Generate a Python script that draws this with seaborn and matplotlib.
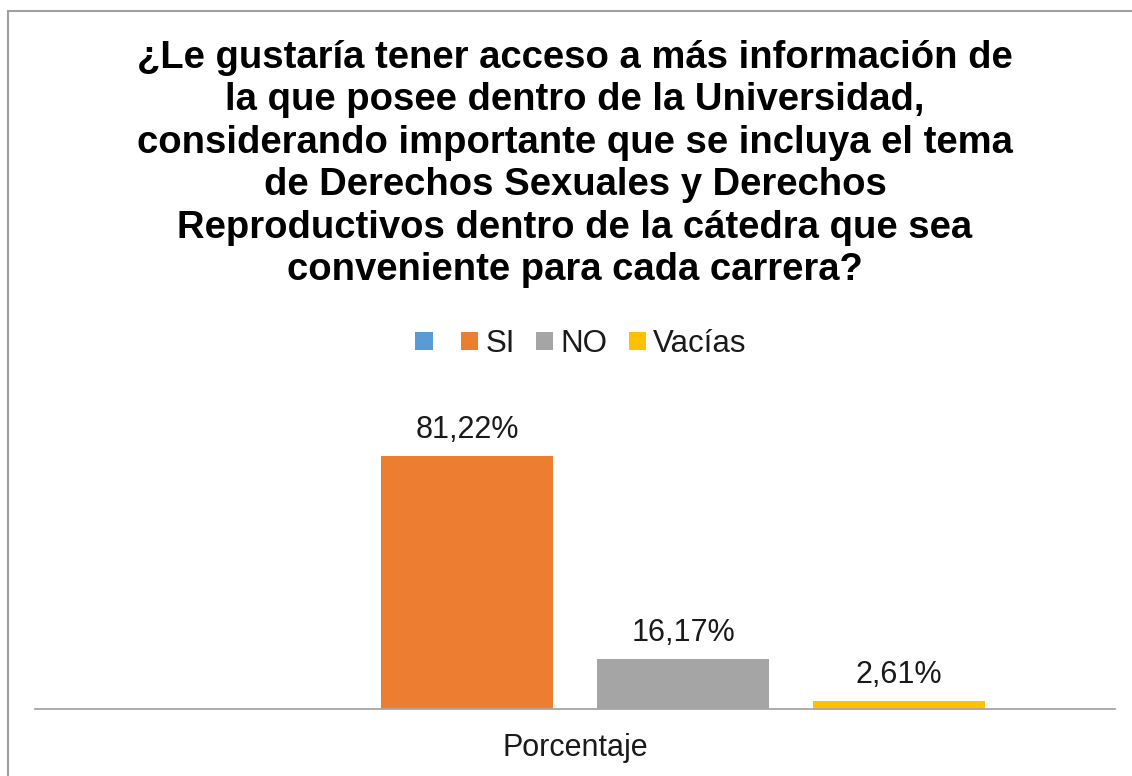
import pandas as pd
import matplotlib.pyplot as plt
import seaborn as sns
from matplotlib.patches import Patch, Rectangle

# Data
categoria = ["Porcentaje"]
series = ["", "SI", "NO", "Vacías"]
valores = [float("nan"), 81.22, 16.17, 2.61]
colores = ["#5B9BD5", "#ED7D31", "#A5A5A5", "#FFC000"]

titulo = ("¿Le gustaría tener acceso a más información de\n"
          "la que posee dentro de la Universidad,\n"
          "considerando importante que se incluya el tema\n"
          "de Derechos Sexuales y Derechos\n"
          "Reproductivos dentro de la cátedra que sea\n"
          "conveniente para cada carrera?")

df = pd.DataFrame({"categoria": categoria * len(series),
                   "serie": series,
                   "valor": valores})

sns.set_theme(style="white")
plt.rcParams["font.family"] = ["Liberation Sans", "DejaVu Sans"]

W, H = 1132, 776
fig = plt.figure(figsize=(W / 100, H / 100), dpi=100)
ax = fig.add_axes([35 / W, 67 / H, 1080 / W, 280 / H])

paleta = dict(zip(series, colores))
sns.barplot(data=df, x="categoria", y="valor", hue="serie", hue_order=series,
            palette=paleta, width=0.8, gap=0.2, legend=False, ax=ax,
            saturation=1, linewidth=0)

ax.set_xlim(-0.5, 0.5)
ax.set_ylim(0, 90)
ax.set_xlabel("")
ax.set_ylabel("")
ax.set_yticks([])
for s in ["top", "right", "left"]:
    ax.spines[s].set_visible(False)
ax.spines["bottom"].set_color("#A6A6A6")
ax.spines["bottom"].set_linewidth(1.3)
ax.tick_params(axis="x", length=0, pad=17, labelsize=22, labelcolor="#1a1a1a")

# data labels
for cont in ax.containers:
    labs = []
    for bar in cont:
        h = bar.get_height()
        labs.append("" if pd.isna(h) else f"{h:.2f}%".replace(".", ","))
    ax.bar_label(cont, labels=labs, padding=8, fontsize=22, color="#1a1a1a")

# legend
handles = [Patch(facecolor=c, edgecolor="none") for c in colores]
fig.legend(handles, series, loc="center", bbox_to_anchor=(581 / W, 1 - 344 / H),
           ncol=4, frameon=False, fontsize=22.5, handlelength=0.55,
           handleheight=0.55, handletextpad=0.23, columnspacing=0.68,
           labelcolor="#1a1a1a")

fig.text(575 / W, 1 - 164 / H, titulo, ha="center", va="center",
         fontsize=27.5, fontweight="bold", color="#000000", linespacing=1.23)

# outer chart border (left and top visible in the image)
fig.patches.append(Rectangle((8 / W, -0.1), 1.2, (H - 11) / H + 0.1,
                             transform=fig.transFigure, fill=False,
                             edgecolor="#A0A0A0", linewidth=1.5))

fig.savefig("out.png", dpi=100, facecolor="white")
